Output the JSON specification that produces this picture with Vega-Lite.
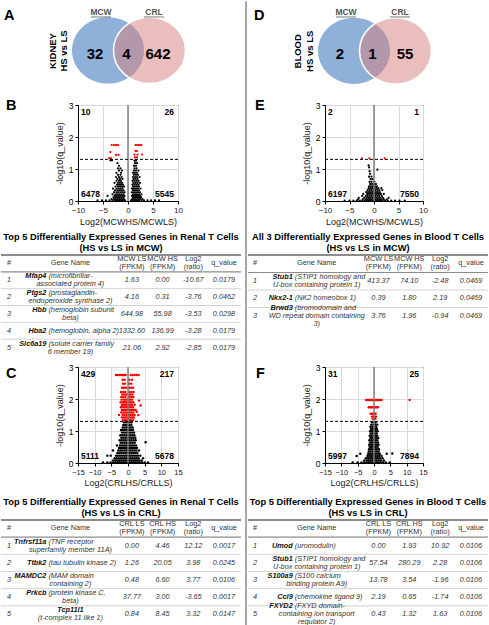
{
"$schema":"https://vega.github.io/schema/vega-lite/v6.json",
"padding":0,
"spacing":0,
"config":{
 "font":"Liberation Sans",
 "view":{"stroke":null},
 "title":{"fontSize":14.5,"fontWeight":"bold","anchor":"start","color":"#000","frame":"group"},
 "axis":{"labelFontSize":8,"labelColor":"#222","titleFontSize":9,"titleFontWeight":"normal","titleColor":"#222","tickColor":"#000","domainColor":"#000","tickSize":3,"gridColor":"#d9d9d9","labelPadding":2,"labelOverlap":false,"labelBound":false,"labelFlush":false},
 "axisY":{"labelColor":"#000","labelFontSize":8.5,"labelAlign":"right","labelBaseline":"middle","labelOpacity":1,"zindex":2}
},
"datasets":{
 "sets":[{"set":"MCW"},{"set":"CRL"}],
 "panels":[{"tissue":"KIDNEY","comparison":"HS vs LS"},{"tissue":"BLOOD","comparison":"HS vs LS"}],
 "venn":[
  {"tissue":"KIDNEY","region":"MCW only","count":32},{"tissue":"KIDNEY","region":"both","count":4},{"tissue":"KIDNEY","region":"CRL only","count":642},
  {"tissue":"BLOOD","region":"MCW only","count":2},{"tissue":"BLOOD","region":"both","count":1},{"tissue":"BLOOD","region":"CRL only","count":55}],
 "cnt":[
  {"panel":"B","pos":"tl","n":"10"},{"panel":"B","pos":"tr","n":"26"},{"panel":"B","pos":"bl","n":"6478"},{"panel":"B","pos":"br","n":"5545"},
  {"panel":"C","pos":"tl","n":"429"},{"panel":"C","pos":"tr","n":"217"},{"panel":"C","pos":"bl","n":"5111"},{"panel":"C","pos":"br","n":"5678"},
  {"panel":"E","pos":"tl","n":"2"},{"panel":"E","pos":"tr","n":"1"},{"panel":"E","pos":"bl","n":"6197"},{"panel":"E","pos":"br","n":"7550"},
  {"panel":"F","pos":"tl","n":"31"},{"panel":"F","pos":"tr","n":"25"},{"panel":"F","pos":"bl","n":"5997"},{"panel":"F","pos":"br","n":"7894"}],
 "vB":[
  {"lfc":-3.28,"nlq":1.75},{"lfc":-2.85,"nlq":1.75},{"lfc":-2.55,"nlq":1.75},{"lfc":-2.25,"nlq":1.75},{"lfc":-1.95,"nlq":1.75},{"lfc":-3.53,"nlq":1.53},{"lfc":-2.4,"nlq":1.44},{"lfc":-1.9,"nlq":1.44},{"lfc":-3.76,"nlq":1.34},{"lfc":-3.4,"nlq":1.33},
  {"lfc":1.5,"nlq":1.75},{"lfc":1.8,"nlq":1.75},{"lfc":2.1,"nlq":1.75},{"lfc":2.4,"nlq":1.75},{"lfc":2.7,"nlq":1.75},{"lfc":1.5,"nlq":1.56},{"lfc":1.8,"nlq":1.56},{"lfc":1.3,"nlq":1.45},{"lfc":1.9,"nlq":1.45},{"lfc":2.8,"nlq":1.45},{"lfc":1.4,"nlq":1.36},{"lfc":1.8,"nlq":1.36},
  {"lfc":-6.1,"nlq":0.02},{"lfc":-5.2,"nlq":0.02},{"lfc":-4.4,"nlq":0.02},{"lfc":-3.7,"nlq":0.02},{"lfc":-3.1,"nlq":0.02},{"lfc":-2.6,"nlq":0.02},{"lfc":-2.2,"nlq":0.02},{"lfc":-1.8,"nlq":0.02},{"lfc":-1.4,"nlq":0.02},{"lfc":-1.0,"nlq":0.02},{"lfc":-0.6,"nlq":0.02},
  {"lfc":-3.3,"nlq":0.06},{"lfc":-2.8,"nlq":0.06},{"lfc":-2.4,"nlq":0.06},{"lfc":-2.0,"nlq":0.06},{"lfc":-1.6,"nlq":0.06},{"lfc":-1.2,"nlq":0.06},{"lfc":-0.8,"nlq":0.06},
  {"lfc":-2.9,"nlq":0.11},{"lfc":-2.5,"nlq":0.11},{"lfc":-2.1,"nlq":0.11},{"lfc":-1.7,"nlq":0.11},{"lfc":-1.3,"nlq":0.11},{"lfc":-0.9,"nlq":0.11},
  {"lfc":-4.1,"nlq":0.16},{"lfc":-2.7,"nlq":0.16},{"lfc":-2.3,"nlq":0.16},{"lfc":-1.9,"nlq":0.16},{"lfc":-1.5,"nlq":0.16},{"lfc":-1.1,"nlq":0.16},{"lfc":-0.7,"nlq":0.16},
  {"lfc":-3.1,"nlq":0.21},{"lfc":-2.5,"nlq":0.21},{"lfc":-2.1,"nlq":0.21},{"lfc":-1.7,"nlq":0.21},{"lfc":-1.3,"nlq":0.21},{"lfc":-0.9,"nlq":0.21},
  {"lfc":-2.8,"nlq":0.27},{"lfc":-2.3,"nlq":0.27},{"lfc":-1.9,"nlq":0.27},{"lfc":-1.5,"nlq":0.27},{"lfc":-1.1,"nlq":0.27},{"lfc":-0.7,"nlq":0.27},
  {"lfc":-2.6,"nlq":0.33},{"lfc":-2.1,"nlq":0.33},{"lfc":-1.7,"nlq":0.33},{"lfc":-1.3,"nlq":0.33},{"lfc":-0.9,"nlq":0.33},
  {"lfc":-3.0,"nlq":0.39},{"lfc":-2.3,"nlq":0.39},{"lfc":-1.9,"nlq":0.39},{"lfc":-1.5,"nlq":0.39},{"lfc":-1.1,"nlq":0.39},
  {"lfc":-2.5,"nlq":0.45},{"lfc":-2.0,"nlq":0.45},{"lfc":-1.6,"nlq":0.45},{"lfc":-1.2,"nlq":0.45},{"lfc":-0.8,"nlq":0.45},
  {"lfc":-2.2,"nlq":0.51},{"lfc":-1.8,"nlq":0.51},{"lfc":-1.4,"nlq":0.51},{"lfc":-1.0,"nlq":0.51},
  {"lfc":-2.7,"nlq":0.57},{"lfc":-2.0,"nlq":0.57},{"lfc":-1.6,"nlq":0.57},{"lfc":-1.2,"nlq":0.57},
  {"lfc":-2.3,"nlq":0.63},{"lfc":-1.8,"nlq":0.63},{"lfc":-1.4,"nlq":0.63},
  {"lfc":-2.1,"nlq":0.69},{"lfc":-1.6,"nlq":0.69},{"lfc":-1.1,"nlq":0.69},
  {"lfc":-2.4,"nlq":0.75},{"lfc":-1.8,"nlq":0.75},{"lfc":-1.3,"nlq":0.75},
  {"lfc":-2.0,"nlq":0.82},{"lfc":-1.5,"nlq":0.82},{"lfc":-2.3,"nlq":0.88},{"lfc":-1.4,"nlq":0.88},{"lfc":-1.8,"nlq":0.95},{"lfc":-1.2,"nlq":0.95},
  {"lfc":-2.0,"nlq":1.02},{"lfc":-1.5,"nlq":1.02},{"lfc":-1.8,"nlq":1.1},{"lfc":-2.1,"nlq":1.18},{"lfc":-3.5,"nlq":1.27},{"lfc":-3.2,"nlq":1.27},
  {"lfc":0.6,"nlq":0.02},{"lfc":1.0,"nlq":0.02},{"lfc":1.4,"nlq":0.02},{"lfc":1.8,"nlq":0.02},{"lfc":2.2,"nlq":0.02},{"lfc":2.7,"nlq":0.02},{"lfc":3.2,"nlq":0.02},{"lfc":3.9,"nlq":0.02},{"lfc":4.6,"nlq":0.02},{"lfc":5.4,"nlq":0.02},{"lfc":6.2,"nlq":0.02},
  {"lfc":0.8,"nlq":0.06},{"lfc":1.2,"nlq":0.06},{"lfc":1.6,"nlq":0.06},{"lfc":2.0,"nlq":0.06},{"lfc":2.4,"nlq":0.06},{"lfc":2.9,"nlq":0.06},
  {"lfc":1.0,"nlq":0.11},{"lfc":1.4,"nlq":0.11},{"lfc":1.8,"nlq":0.11},{"lfc":2.2,"nlq":0.11},{"lfc":2.6,"nlq":0.11},
  {"lfc":0.8,"nlq":0.16},{"lfc":1.2,"nlq":0.16},{"lfc":1.6,"nlq":0.16},{"lfc":2.0,"nlq":0.16},{"lfc":2.4,"nlq":0.16},
  {"lfc":1.0,"nlq":0.21},{"lfc":1.4,"nlq":0.21},{"lfc":1.8,"nlq":0.21},{"lfc":2.2,"nlq":0.21},{"lfc":2.7,"nlq":0.21},
  {"lfc":0.8,"nlq":0.27},{"lfc":1.2,"nlq":0.27},{"lfc":1.6,"nlq":0.27},{"lfc":2.0,"nlq":0.27},{"lfc":2.4,"nlq":0.27},
  {"lfc":1.0,"nlq":0.33},{"lfc":1.4,"nlq":0.33},{"lfc":1.8,"nlq":0.33},{"lfc":2.2,"nlq":0.33},
  {"lfc":0.8,"nlq":0.39},{"lfc":1.2,"nlq":0.39},{"lfc":1.6,"nlq":0.39},{"lfc":2.0,"nlq":0.39},{"lfc":2.5,"nlq":0.39},
  {"lfc":1.0,"nlq":0.45},{"lfc":1.4,"nlq":0.45},{"lfc":1.8,"nlq":0.45},{"lfc":2.2,"nlq":0.45},
  {"lfc":0.9,"nlq":0.51},{"lfc":1.3,"nlq":0.51},{"lfc":1.7,"nlq":0.51},{"lfc":2.1,"nlq":0.51},
  {"lfc":1.1,"nlq":0.57},{"lfc":1.5,"nlq":0.57},{"lfc":1.9,"nlq":0.57},{"lfc":2.4,"nlq":0.57},
  {"lfc":0.9,"nlq":0.63},{"lfc":1.3,"nlq":0.63},{"lfc":1.7,"nlq":0.63},{"lfc":2.1,"nlq":0.63},
  {"lfc":1.1,"nlq":0.69},{"lfc":1.5,"nlq":0.69},{"lfc":1.9,"nlq":0.69},
  {"lfc":1.0,"nlq":0.75},{"lfc":1.4,"nlq":0.75},{"lfc":1.8,"nlq":0.75},{"lfc":2.3,"nlq":0.75},
  {"lfc":1.2,"nlq":0.82},{"lfc":1.6,"nlq":0.82},{"lfc":2.0,"nlq":0.82},{"lfc":1.0,"nlq":0.88},{"lfc":1.4,"nlq":0.88},{"lfc":1.8,"nlq":0.88},
  {"lfc":1.2,"nlq":0.95},{"lfc":1.6,"nlq":0.95},{"lfc":2.1,"nlq":0.95},{"lfc":1.3,"nlq":1.02},{"lfc":1.7,"nlq":1.02},{"lfc":1.2,"nlq":1.1},{"lfc":1.6,"nlq":1.1},
  {"lfc":1.4,"nlq":1.18},{"lfc":1.8,"nlq":1.18},{"lfc":1.3,"nlq":1.26},{"lfc":1.6,"nlq":1.26}],
 "vC":[
  {"lfc":-7.5,"nlq":0.02},{"lfc":-6.2,"nlq":0.02},{"lfc":-5.2,"nlq":0.02},{"lfc":-4.4,"nlq":0.02},{"lfc":-3.7,"nlq":0.02},{"lfc":-3.1,"nlq":0.02},{"lfc":-2.5,"nlq":0.02},{"lfc":-1.9,"nlq":0.02},{"lfc":-1.3,"nlq":0.02},{"lfc":-0.7,"nlq":0.02},{"lfc":-0.1,"nlq":0.02},{"lfc":0.5,"nlq":0.02},{"lfc":1.1,"nlq":0.02},{"lfc":1.7,"nlq":0.02},{"lfc":2.3,"nlq":0.02},{"lfc":2.9,"nlq":0.02},{"lfc":3.5,"nlq":0.02},{"lfc":4.2,"nlq":0.02},{"lfc":5.0,"nlq":0.02},{"lfc":6.0,"nlq":0.02},
  {"lfc":-4.5,"nlq":0.08},{"lfc":-3.8,"nlq":0.08},{"lfc":-3.2,"nlq":0.08},{"lfc":-2.6,"nlq":0.08},{"lfc":-2.0,"nlq":0.08},{"lfc":-1.4,"nlq":0.08},{"lfc":-0.8,"nlq":0.08},{"lfc":-0.2,"nlq":0.08},{"lfc":0.4,"nlq":0.08},{"lfc":1.0,"nlq":0.08},{"lfc":1.6,"nlq":0.08},{"lfc":2.2,"nlq":0.08},{"lfc":2.8,"nlq":0.08},{"lfc":3.4,"nlq":0.08},{"lfc":4.1,"nlq":0.08},
  {"lfc":-4.0,"nlq":0.15},{"lfc":-3.4,"nlq":0.15},{"lfc":-2.8,"nlq":0.15},{"lfc":-2.2,"nlq":0.15},{"lfc":-1.6,"nlq":0.15},{"lfc":-1.0,"nlq":0.15},{"lfc":-0.4,"nlq":0.15},{"lfc":0.2,"nlq":0.15},{"lfc":0.8,"nlq":0.15},{"lfc":1.4,"nlq":0.15},{"lfc":2.0,"nlq":0.15},{"lfc":2.6,"nlq":0.15},{"lfc":3.2,"nlq":0.15},{"lfc":4.5,"nlq":0.15},
  {"lfc":-6.2,"nlq":0.23},{"lfc":-5.2,"nlq":0.23},{"lfc":-3.6,"nlq":0.23},{"lfc":-3.0,"nlq":0.23},{"lfc":-2.4,"nlq":0.23},{"lfc":-1.8,"nlq":0.23},{"lfc":-1.2,"nlq":0.23},{"lfc":-0.6,"nlq":0.23},{"lfc":0.0,"nlq":0.23},{"lfc":0.6,"nlq":0.23},{"lfc":1.2,"nlq":0.23},{"lfc":1.8,"nlq":0.23},{"lfc":2.4,"nlq":0.23},{"lfc":3.0,"nlq":0.23},{"lfc":3.7,"nlq":0.23},
  {"lfc":-3.2,"nlq":0.31},{"lfc":-2.6,"nlq":0.31},{"lfc":-2.0,"nlq":0.31},{"lfc":-1.4,"nlq":0.31},{"lfc":-0.8,"nlq":0.31},{"lfc":-0.2,"nlq":0.31},{"lfc":0.4,"nlq":0.31},{"lfc":1.0,"nlq":0.31},{"lfc":1.6,"nlq":0.31},{"lfc":2.2,"nlq":0.31},{"lfc":2.8,"nlq":0.31},
  {"lfc":-4.5,"nlq":0.39},{"lfc":-2.9,"nlq":0.39},{"lfc":-2.3,"nlq":0.39},{"lfc":-1.7,"nlq":0.39},{"lfc":-1.1,"nlq":0.39},{"lfc":-0.5,"nlq":0.39},{"lfc":0.1,"nlq":0.39},{"lfc":0.7,"nlq":0.39},{"lfc":1.3,"nlq":0.39},{"lfc":1.9,"nlq":0.39},{"lfc":2.5,"nlq":0.39},{"lfc":3.3,"nlq":0.39},
  {"lfc":-2.7,"nlq":0.47},{"lfc":-2.1,"nlq":0.47},{"lfc":-1.5,"nlq":0.47},{"lfc":-0.9,"nlq":0.47},{"lfc":-0.3,"nlq":0.47},{"lfc":0.3,"nlq":0.47},{"lfc":0.9,"nlq":0.47},{"lfc":1.5,"nlq":0.47},{"lfc":2.1,"nlq":0.47},{"lfc":2.7,"nlq":0.47},
  {"lfc":-3.3,"nlq":0.55},{"lfc":-2.4,"nlq":0.55},{"lfc":-1.8,"nlq":0.55},{"lfc":-1.2,"nlq":0.55},{"lfc":-0.6,"nlq":0.55},{"lfc":0.0,"nlq":0.55},{"lfc":0.6,"nlq":0.55},{"lfc":1.2,"nlq":0.55},{"lfc":1.8,"nlq":0.55},{"lfc":2.4,"nlq":0.55},
  {"lfc":-2.2,"nlq":0.63},{"lfc":-1.6,"nlq":0.63},{"lfc":-1.0,"nlq":0.63},{"lfc":-0.4,"nlq":0.63},{"lfc":0.2,"nlq":0.63},{"lfc":0.8,"nlq":0.63},{"lfc":1.4,"nlq":0.63},{"lfc":2.0,"nlq":0.63},{"lfc":5.3,"nlq":0.65},
  {"lfc":-2.5,"nlq":0.71},{"lfc":-1.9,"nlq":0.71},{"lfc":-1.3,"nlq":0.71},{"lfc":-0.7,"nlq":0.71},{"lfc":-0.1,"nlq":0.71},{"lfc":0.5,"nlq":0.71},{"lfc":1.1,"nlq":0.71},{"lfc":1.7,"nlq":0.71},{"lfc":2.3,"nlq":0.71},
  {"lfc":-2.0,"nlq":0.79},{"lfc":-1.4,"nlq":0.79},{"lfc":-0.8,"nlq":0.79},{"lfc":-0.2,"nlq":0.79},{"lfc":0.4,"nlq":0.79},{"lfc":1.0,"nlq":0.79},{"lfc":1.6,"nlq":0.79},{"lfc":2.2,"nlq":0.79},
  {"lfc":-2.3,"nlq":0.87},{"lfc":-1.7,"nlq":0.87},{"lfc":-1.1,"nlq":0.87},{"lfc":-0.5,"nlq":0.87},{"lfc":0.1,"nlq":0.87},{"lfc":0.7,"nlq":0.87},{"lfc":1.3,"nlq":0.87},{"lfc":1.9,"nlq":0.87},
  {"lfc":-1.8,"nlq":0.95},{"lfc":-1.2,"nlq":0.95},{"lfc":-0.6,"nlq":0.95},{"lfc":0.0,"nlq":0.95},{"lfc":0.6,"nlq":0.95},{"lfc":1.2,"nlq":0.95},{"lfc":1.8,"nlq":0.95},
  {"lfc":-2.1,"nlq":1.03},{"lfc":-1.5,"nlq":1.03},{"lfc":-0.9,"nlq":1.03},{"lfc":-0.3,"nlq":1.03},{"lfc":0.3,"nlq":1.03},{"lfc":0.9,"nlq":1.03},{"lfc":1.5,"nlq":1.03},
  {"lfc":-1.6,"nlq":1.11},{"lfc":-1.0,"nlq":1.11},{"lfc":-0.4,"nlq":1.11},{"lfc":0.2,"nlq":1.11},{"lfc":0.8,"nlq":1.11},{"lfc":1.4,"nlq":1.11},
  {"lfc":-1.4,"nlq":1.19},{"lfc":-0.8,"nlq":1.19},{"lfc":-0.2,"nlq":1.19},{"lfc":0.4,"nlq":1.19},{"lfc":1.0,"nlq":1.19},
  {"lfc":-1.2,"nlq":1.27},{"lfc":-0.6,"nlq":1.27},{"lfc":0.0,"nlq":1.27},{"lfc":0.6,"nlq":1.27},{"lfc":1.1,"nlq":1.27},
  {"lfc":-1.5,"nlq":1.34},{"lfc":-0.9,"nlq":1.34},{"lfc":-0.3,"nlq":1.34},{"lfc":0.3,"nlq":1.34},{"lfc":0.9,"nlq":1.34},{"lfc":1.5,"nlq":1.34},
  {"lfc":-1.8,"nlq":1.42},{"lfc":-1.2,"nlq":1.42},{"lfc":-0.6,"nlq":1.42},{"lfc":0.0,"nlq":1.42},{"lfc":0.6,"nlq":1.42},{"lfc":1.2,"nlq":1.42},{"lfc":1.8,"nlq":1.42},
  {"lfc":-2.7,"nlq":1.5},{"lfc":-1.6,"nlq":1.5},{"lfc":-1.0,"nlq":1.5},{"lfc":-0.4,"nlq":1.5},{"lfc":0.2,"nlq":1.5},{"lfc":0.8,"nlq":1.5},{"lfc":1.4,"nlq":1.5},{"lfc":2.0,"nlq":1.5},{"lfc":3.1,"nlq":1.5},
  {"lfc":-2.0,"nlq":1.58},{"lfc":-1.4,"nlq":1.58},{"lfc":-0.8,"nlq":1.58},{"lfc":-0.2,"nlq":1.58},{"lfc":0.4,"nlq":1.58},{"lfc":1.0,"nlq":1.58},{"lfc":1.6,"nlq":1.58},{"lfc":2.6,"nlq":1.6},
  {"lfc":-1.8,"nlq":1.66},{"lfc":-1.2,"nlq":1.66},{"lfc":-0.6,"nlq":1.66},{"lfc":0.0,"nlq":1.66},{"lfc":0.6,"nlq":1.66},{"lfc":1.2,"nlq":1.66},{"lfc":1.8,"nlq":1.66},{"lfc":2.3,"nlq":1.66},
  {"lfc":-2.1,"nlq":1.74},{"lfc":-1.5,"nlq":1.74},{"lfc":-0.9,"nlq":1.74},{"lfc":-0.3,"nlq":1.74},{"lfc":0.3,"nlq":1.74},{"lfc":0.9,"nlq":1.74},{"lfc":1.5,"nlq":1.74},{"lfc":3.8,"nlq":1.8},
  {"lfc":-1.8,"nlq":1.82},{"lfc":-1.2,"nlq":1.82},{"lfc":-0.6,"nlq":1.82},{"lfc":0.0,"nlq":1.82},{"lfc":0.6,"nlq":1.82},{"lfc":1.2,"nlq":1.82},{"lfc":2.0,"nlq":1.82},
  {"lfc":-2.2,"nlq":1.9},{"lfc":-1.5,"nlq":1.9},{"lfc":-0.9,"nlq":1.9},{"lfc":-0.3,"nlq":1.9},{"lfc":0.3,"nlq":1.9},{"lfc":0.9,"nlq":1.9},{"lfc":1.6,"nlq":1.9},
  {"lfc":-1.9,"nlq":1.98},{"lfc":-1.2,"nlq":1.98},{"lfc":-0.6,"nlq":1.98},{"lfc":0.0,"nlq":1.98},{"lfc":0.6,"nlq":1.98},{"lfc":1.2,"nlq":1.98},{"lfc":3.3,"nlq":1.95},
  {"lfc":-2.0,"nlq":2.06},{"lfc":-1.4,"nlq":2.06},{"lfc":-0.8,"nlq":2.06},{"lfc":0.4,"nlq":2.06},{"lfc":1.0,"nlq":2.06},{"lfc":1.6,"nlq":2.06},
  {"lfc":-1.7,"nlq":2.14},{"lfc":-1.1,"nlq":2.14},{"lfc":-0.5,"nlq":2.14},{"lfc":0.6,"nlq":2.14},{"lfc":1.3,"nlq":2.14},
  {"lfc":-2.1,"nlq":2.22},{"lfc":-1.4,"nlq":2.22},{"lfc":-0.8,"nlq":2.22},{"lfc":0.5,"nlq":2.22},{"lfc":1.1,"nlq":2.22},{"lfc":1.7,"nlq":2.22},
  {"lfc":-1.8,"nlq":2.35},{"lfc":-1.2,"nlq":2.35},{"lfc":-0.6,"nlq":2.35},{"lfc":0.4,"nlq":2.35},{"lfc":1.0,"nlq":2.35},{"lfc":1.5,"nlq":2.35},
  {"lfc":-1.5,"nlq":2.48},{"lfc":-0.9,"nlq":2.48},{"lfc":0.4,"nlq":2.48},{"lfc":1.0,"nlq":2.48},
  {"lfc":-1.6,"nlq":2.6},{"lfc":-1.0,"nlq":2.6},{"lfc":0.4,"nlq":2.6},{"lfc":1.2,"nlq":2.6},
  {"lfc":-3.6,"nlq":2.75},{"lfc":-3.0,"nlq":2.75},{"lfc":-2.4,"nlq":2.75},{"lfc":-1.8,"nlq":2.75},{"lfc":-1.2,"nlq":2.75},{"lfc":-0.7,"nlq":2.75},{"lfc":0.8,"nlq":2.75},{"lfc":1.4,"nlq":2.75},{"lfc":2.0,"nlq":2.75},{"lfc":2.6,"nlq":2.75},{"lfc":3.2,"nlq":2.75}],
 "vE":[
  {"lfc":-2.48,"nlq":1.33},{"lfc":-0.94,"nlq":1.33},{"lfc":2.19,"nlq":1.33},
  {"lfc":-6.0,"nlq":0.01},{"lfc":-5.0,"nlq":0.01},{"lfc":-4.2,"nlq":0.01},{"lfc":-3.5,"nlq":0.01},{"lfc":-2.9,"nlq":0.01},{"lfc":-2.4,"nlq":0.01},{"lfc":-1.9,"nlq":0.01},{"lfc":-1.5,"nlq":0.01},{"lfc":-1.1,"nlq":0.01},{"lfc":-0.7,"nlq":0.01},{"lfc":-0.3,"nlq":0.01},{"lfc":0.1,"nlq":0.01},{"lfc":0.5,"nlq":0.01},{"lfc":0.9,"nlq":0.01},{"lfc":1.3,"nlq":0.01},{"lfc":1.7,"nlq":0.01},{"lfc":2.2,"nlq":0.01},{"lfc":2.8,"nlq":0.01},{"lfc":3.5,"nlq":0.01},{"lfc":4.3,"nlq":0.01},{"lfc":5.2,"nlq":0.01},{"lfc":6.3,"nlq":0.01},
  {"lfc":-3.3,"nlq":0.05},{"lfc":-2.3,"nlq":0.05},{"lfc":-1.7,"nlq":0.05},{"lfc":-1.3,"nlq":0.05},{"lfc":-0.9,"nlq":0.05},{"lfc":-0.5,"nlq":0.05},{"lfc":-0.1,"nlq":0.05},{"lfc":0.3,"nlq":0.05},{"lfc":0.7,"nlq":0.05},{"lfc":1.1,"nlq":0.05},{"lfc":1.5,"nlq":0.05},{"lfc":2.0,"nlq":0.05},{"lfc":2.6,"nlq":0.05},
  {"lfc":-3.1,"nlq":0.1},{"lfc":-2.0,"nlq":0.1},{"lfc":-1.5,"nlq":0.1},{"lfc":-1.1,"nlq":0.1},{"lfc":-0.7,"nlq":0.1},{"lfc":-0.3,"nlq":0.1},{"lfc":0.1,"nlq":0.1},{"lfc":0.5,"nlq":0.1},{"lfc":0.9,"nlq":0.1},{"lfc":1.3,"nlq":0.1},{"lfc":1.8,"nlq":0.1},{"lfc":3.0,"nlq":0.1},
  {"lfc":-2.4,"nlq":0.16},{"lfc":-1.7,"nlq":0.16},{"lfc":-1.3,"nlq":0.16},{"lfc":-0.9,"nlq":0.16},{"lfc":-0.5,"nlq":0.16},{"lfc":-0.1,"nlq":0.16},{"lfc":0.3,"nlq":0.16},{"lfc":0.7,"nlq":0.16},{"lfc":1.1,"nlq":0.16},{"lfc":1.6,"nlq":0.16},
  {"lfc":-2.2,"nlq":0.22},{"lfc":-1.4,"nlq":0.22},{"lfc":-1.0,"nlq":0.22},{"lfc":-0.6,"nlq":0.22},{"lfc":-0.2,"nlq":0.22},{"lfc":0.2,"nlq":0.22},{"lfc":0.6,"nlq":0.22},{"lfc":1.0,"nlq":0.22},{"lfc":1.4,"nlq":0.22},{"lfc":2.0,"nlq":0.22},
  {"lfc":-1.6,"nlq":0.28},{"lfc":-1.2,"nlq":0.28},{"lfc":-0.8,"nlq":0.28},{"lfc":-0.4,"nlq":0.28},{"lfc":0.0,"nlq":0.28},{"lfc":0.4,"nlq":0.28},{"lfc":0.8,"nlq":0.28},{"lfc":1.2,"nlq":0.28},
  {"lfc":-1.3,"nlq":0.34},{"lfc":-0.9,"nlq":0.34},{"lfc":-0.5,"nlq":0.34},{"lfc":-0.1,"nlq":0.34},{"lfc":0.3,"nlq":0.34},{"lfc":0.7,"nlq":0.34},{"lfc":1.1,"nlq":0.34},{"lfc":1.7,"nlq":0.34},
  {"lfc":-1.1,"nlq":0.4},{"lfc":-0.7,"nlq":0.4},{"lfc":-0.3,"nlq":0.4},{"lfc":0.1,"nlq":0.4},{"lfc":0.5,"nlq":0.4},{"lfc":0.9,"nlq":0.4},{"lfc":1.5,"nlq":0.4},
  {"lfc":-1.0,"nlq":0.46},{"lfc":-0.6,"nlq":0.46},{"lfc":-0.2,"nlq":0.46},{"lfc":0.2,"nlq":0.46},{"lfc":0.6,"nlq":0.46},
  {"lfc":-0.8,"nlq":0.53},{"lfc":-0.4,"nlq":0.53},{"lfc":0.0,"nlq":0.53},{"lfc":0.4,"nlq":0.53},
  {"lfc":-0.9,"nlq":0.6},{"lfc":-0.5,"nlq":0.6},{"lfc":0.1,"nlq":0.6},{"lfc":-0.7,"nlq":0.68},{"lfc":-0.3,"nlq":0.68},{"lfc":-1.0,"nlq":0.76},{"lfc":-0.5,"nlq":0.76},
  {"lfc":-0.8,"nlq":0.85},{"lfc":-0.9,"nlq":0.93},{"lfc":0.7,"nlq":0.98},{"lfc":-1.0,"nlq":1.05},{"lfc":-1.1,"nlq":1.11}],
 "vF":[
  {"lfc":-2.4,"nlq":1.97},{"lfc":-2.0,"nlq":1.97},{"lfc":-1.7,"nlq":1.97},{"lfc":-1.4,"nlq":1.97},{"lfc":-1.1,"nlq":1.97},{"lfc":-0.8,"nlq":1.97},{"lfc":-0.5,"nlq":1.97},{"lfc":-0.2,"nlq":1.97},{"lfc":0.1,"nlq":1.97},{"lfc":0.4,"nlq":1.97},{"lfc":0.7,"nlq":1.97},{"lfc":1.0,"nlq":1.97},{"lfc":1.3,"nlq":1.97},{"lfc":1.6,"nlq":1.97},{"lfc":1.9,"nlq":1.97},{"lfc":2.3,"nlq":1.97},{"lfc":10.92,"nlq":1.97},
  {"lfc":-1.6,"nlq":1.74},{"lfc":-1.2,"nlq":1.74},{"lfc":-0.8,"nlq":1.74},{"lfc":-0.4,"nlq":1.74},{"lfc":0.0,"nlq":1.74},{"lfc":0.4,"nlq":1.74},{"lfc":0.8,"nlq":1.74},{"lfc":1.2,"nlq":1.74},
  {"lfc":-1.0,"nlq":1.54},{"lfc":-0.6,"nlq":1.54},{"lfc":-0.2,"nlq":1.54},{"lfc":0.2,"nlq":1.54},{"lfc":0.5,"nlq":1.54},
  {"lfc":-0.6,"nlq":1.45},{"lfc":-0.2,"nlq":1.45},{"lfc":0.2,"nlq":1.45},{"lfc":0.6,"nlq":1.45},{"lfc":-0.4,"nlq":1.38},{"lfc":0.0,"nlq":1.38},{"lfc":0.4,"nlq":1.38},
  {"lfc":-6.5,"nlq":0.02},{"lfc":-5.0,"nlq":0.02},{"lfc":-3.8,"nlq":0.02},{"lfc":-2.9,"nlq":0.02},{"lfc":-2.2,"nlq":0.02},{"lfc":-1.6,"nlq":0.02},{"lfc":-1.0,"nlq":0.02},{"lfc":-0.4,"nlq":0.02},{"lfc":0.2,"nlq":0.02},{"lfc":0.8,"nlq":0.02},{"lfc":1.4,"nlq":0.02},{"lfc":2.0,"nlq":0.02},{"lfc":2.7,"nlq":0.02},{"lfc":3.6,"nlq":0.02},{"lfc":4.8,"nlq":0.02},
  {"lfc":-3.0,"nlq":0.08},{"lfc":-2.2,"nlq":0.08},{"lfc":-1.6,"nlq":0.08},{"lfc":-1.0,"nlq":0.08},{"lfc":-0.4,"nlq":0.08},{"lfc":0.2,"nlq":0.08},{"lfc":0.8,"nlq":0.08},{"lfc":1.4,"nlq":0.08},{"lfc":2.1,"nlq":0.08},{"lfc":3.0,"nlq":0.08},
  {"lfc":-2.5,"nlq":0.15},{"lfc":-1.8,"nlq":0.15},{"lfc":-1.2,"nlq":0.15},{"lfc":-0.6,"nlq":0.15},{"lfc":0.0,"nlq":0.15},{"lfc":0.6,"nlq":0.15},{"lfc":1.2,"nlq":0.15},{"lfc":1.8,"nlq":0.15},{"lfc":2.6,"nlq":0.15},
  {"lfc":-5.3,"nlq":0.22},{"lfc":-2.0,"nlq":0.22},{"lfc":-1.4,"nlq":0.22},{"lfc":-0.8,"nlq":0.22},{"lfc":-0.2,"nlq":0.22},{"lfc":0.4,"nlq":0.22},{"lfc":1.0,"nlq":0.22},{"lfc":1.6,"nlq":0.22},{"lfc":2.3,"nlq":0.22},
  {"lfc":-4.2,"nlq":0.29},{"lfc":-1.8,"nlq":0.29},{"lfc":-1.2,"nlq":0.29},{"lfc":-0.6,"nlq":0.29},{"lfc":0.0,"nlq":0.29},{"lfc":0.6,"nlq":0.29},{"lfc":1.2,"nlq":0.29},{"lfc":1.8,"nlq":0.29},{"lfc":3.9,"nlq":0.29},{"lfc":5.6,"nlq":0.3},
  {"lfc":-1.6,"nlq":0.36},{"lfc":-1.0,"nlq":0.36},{"lfc":-0.4,"nlq":0.36},{"lfc":0.2,"nlq":0.36},{"lfc":0.8,"nlq":0.36},{"lfc":1.4,"nlq":0.36},
  {"lfc":-1.5,"nlq":0.43},{"lfc":-0.9,"nlq":0.43},{"lfc":-0.3,"nlq":0.43},{"lfc":0.3,"nlq":0.43},{"lfc":0.9,"nlq":0.43},{"lfc":1.5,"nlq":0.43},
  {"lfc":-1.3,"nlq":0.5},{"lfc":-0.7,"nlq":0.5},{"lfc":-0.1,"nlq":0.5},{"lfc":0.5,"nlq":0.5},{"lfc":1.1,"nlq":0.5},
  {"lfc":-1.5,"nlq":0.57},{"lfc":-0.9,"nlq":0.57},{"lfc":-0.3,"nlq":0.57},{"lfc":0.3,"nlq":0.57},{"lfc":0.9,"nlq":0.57},{"lfc":1.4,"nlq":0.57},
  {"lfc":-1.2,"nlq":0.64},{"lfc":-0.6,"nlq":0.64},{"lfc":0.0,"nlq":0.64},{"lfc":0.6,"nlq":0.64},{"lfc":1.2,"nlq":0.64},
  {"lfc":-1.4,"nlq":0.71},{"lfc":-0.8,"nlq":0.71},{"lfc":-0.2,"nlq":0.71},{"lfc":0.4,"nlq":0.71},{"lfc":1.0,"nlq":0.71},
  {"lfc":-1.1,"nlq":0.78},{"lfc":-0.5,"nlq":0.78},{"lfc":0.1,"nlq":0.78},{"lfc":0.7,"nlq":0.78},{"lfc":1.3,"nlq":0.78},
  {"lfc":-1.3,"nlq":0.85},{"lfc":-0.7,"nlq":0.85},{"lfc":-0.1,"nlq":0.85},{"lfc":0.5,"nlq":0.85},{"lfc":1.0,"nlq":0.85},
  {"lfc":-1.0,"nlq":0.92},{"lfc":-0.4,"nlq":0.92},{"lfc":0.2,"nlq":0.92},{"lfc":0.8,"nlq":0.92},
  {"lfc":-1.2,"nlq":0.99},{"lfc":-0.6,"nlq":0.99},{"lfc":0.0,"nlq":0.99},{"lfc":0.6,"nlq":0.99},{"lfc":1.1,"nlq":0.99},
  {"lfc":-0.9,"nlq":1.06},{"lfc":-0.3,"nlq":1.06},{"lfc":0.3,"nlq":1.06},{"lfc":0.9,"nlq":1.06},
  {"lfc":-1.1,"nlq":1.13},{"lfc":-0.5,"nlq":1.13},{"lfc":0.1,"nlq":1.13},{"lfc":0.7,"nlq":1.13},
  {"lfc":-0.8,"nlq":1.2},{"lfc":-0.2,"nlq":1.2},{"lfc":0.4,"nlq":1.2},{"lfc":1.0,"nlq":1.2},
  {"lfc":-0.6,"nlq":1.27},{"lfc":0.0,"nlq":1.27},{"lfc":0.5,"nlq":1.27}],
 "cells":[
  {"tbl":1,"row":0,"col":"#","line":0,"kind":"h","text":"#"},{"tbl":1,"row":0,"col":"gene","line":0,"kind":"h","text":"Gene Name"},
  {"tbl":1,"row":0,"col":"ls","line":-0.5,"kind":"h","text":"MCW LS"},{"tbl":1,"row":0,"col":"ls","line":0.5,"kind":"h","text":"(FPKM)"},
  {"tbl":1,"row":0,"col":"hs","line":-0.5,"kind":"h","text":"MCW HS"},{"tbl":1,"row":0,"col":"hs","line":0.5,"kind":"h","text":"(FPKM)"},
  {"tbl":1,"row":0,"col":"ratio","line":-0.5,"kind":"h","text":"Log2"},{"tbl":1,"row":0,"col":"ratio","line":0.5,"kind":"h","text":"(ratio)"},
  {"tbl":1,"row":0,"col":"q","line":0,"kind":"h","text":"q_value"},
  {"tbl":1,"row":1,"col":"#","line":0,"kind":"n","text":"1"},{"tbl":1,"row":1,"col":"gene","line":-0.5,"kind":"s","text":"Mfap4"},{"tbl":1,"row":1,"col":"gene","line":-0.5,"kind":"d1","text":"(microfibrillar-"},{"tbl":1,"row":1,"col":"gene","line":0.5,"kind":"d","text":"associated protein 4)"},
  {"tbl":1,"row":1,"col":"ls","line":0,"kind":"n","text":"1.63"},{"tbl":1,"row":1,"col":"hs","line":0,"kind":"n","text":"0.00"},{"tbl":1,"row":1,"col":"ratio","line":0,"kind":"n","text":"-10.67"},{"tbl":1,"row":1,"col":"q","line":0,"kind":"n","text":"0.0179"},
  {"tbl":1,"row":2,"col":"#","line":0,"kind":"n","text":"2"},{"tbl":1,"row":2,"col":"gene","line":-0.5,"kind":"s","text":"Ptgs2"},{"tbl":1,"row":2,"col":"gene","line":-0.5,"kind":"d1","text":"(prostaglandin-"},{"tbl":1,"row":2,"col":"gene","line":0.5,"kind":"d","text":"endoperoxide synthase 2)"},
  {"tbl":1,"row":2,"col":"ls","line":0,"kind":"n","text":"4.16"},{"tbl":1,"row":2,"col":"hs","line":0,"kind":"n","text":"0.31"},{"tbl":1,"row":2,"col":"ratio","line":0,"kind":"n","text":"-3.76"},{"tbl":1,"row":2,"col":"q","line":0,"kind":"n","text":"0.0462"},
  {"tbl":1,"row":3,"col":"#","line":0,"kind":"n","text":"3"},{"tbl":1,"row":3,"col":"gene","line":-0.5,"kind":"s","text":"Hbb"},{"tbl":1,"row":3,"col":"gene","line":-0.5,"kind":"d1","text":"(hemoglobin subunit"},{"tbl":1,"row":3,"col":"gene","line":0.5,"kind":"d","text":"beta)"},
  {"tbl":1,"row":3,"col":"ls","line":0,"kind":"n","text":"644.98"},{"tbl":1,"row":3,"col":"hs","line":0,"kind":"n","text":"55.98"},{"tbl":1,"row":3,"col":"ratio","line":0,"kind":"n","text":"-3.53"},{"tbl":1,"row":3,"col":"q","line":0,"kind":"n","text":"0.0298"},
  {"tbl":1,"row":4,"col":"#","line":0,"kind":"n","text":"4"},{"tbl":1,"row":4,"col":"gene","line":0,"kind":"s","text":"Hba2"},{"tbl":1,"row":4,"col":"gene","line":0,"kind":"d1","text":"(hemoglobin, alpha 2)"},
  {"tbl":1,"row":4,"col":"ls","line":0,"kind":"n","text":"1332.60"},{"tbl":1,"row":4,"col":"hs","line":0,"kind":"n","text":"136.99"},{"tbl":1,"row":4,"col":"ratio","line":0,"kind":"n","text":"-3.28"},{"tbl":1,"row":4,"col":"q","line":0,"kind":"n","text":"0.0179"},
  {"tbl":1,"row":5,"col":"#","line":0,"kind":"n","text":"5"},{"tbl":1,"row":5,"col":"gene","line":-0.5,"kind":"s","text":"Slc6a19"},{"tbl":1,"row":5,"col":"gene","line":-0.5,"kind":"d1","text":"(solute carrier family"},{"tbl":1,"row":5,"col":"gene","line":0.5,"kind":"d","text":"6 member 19)"},
  {"tbl":1,"row":5,"col":"ls","line":0,"kind":"n","text":"21.06"},{"tbl":1,"row":5,"col":"hs","line":0,"kind":"n","text":"2.92"},{"tbl":1,"row":5,"col":"ratio","line":0,"kind":"n","text":"-2.85"},{"tbl":1,"row":5,"col":"q","line":0,"kind":"n","text":"0.0179"},
  {"tbl":2,"row":0,"col":"#","line":0,"kind":"h","text":"#"},{"tbl":2,"row":0,"col":"gene","line":0,"kind":"h","text":"Gene Name"},
  {"tbl":2,"row":0,"col":"ls","line":-0.5,"kind":"h","text":"CRL LS"},{"tbl":2,"row":0,"col":"ls","line":0.5,"kind":"h","text":"(FPKM)"},
  {"tbl":2,"row":0,"col":"hs","line":-0.5,"kind":"h","text":"CRL HS"},{"tbl":2,"row":0,"col":"hs","line":0.5,"kind":"h","text":"(FPKM)"},
  {"tbl":2,"row":0,"col":"ratio","line":-0.5,"kind":"h","text":"Log2"},{"tbl":2,"row":0,"col":"ratio","line":0.5,"kind":"h","text":"(ratio)"},
  {"tbl":2,"row":0,"col":"q","line":0,"kind":"h","text":"q_value"},
  {"tbl":2,"row":1,"col":"#","line":0,"kind":"n","text":"1"},{"tbl":2,"row":1,"col":"gene","line":-0.5,"kind":"s","text":"Tnfrsf11a"},{"tbl":2,"row":1,"col":"gene","line":-0.5,"kind":"d1","text":"(TNF receptor"},{"tbl":2,"row":1,"col":"gene","line":0.5,"kind":"d","text":"superfamily member 11A)"},
  {"tbl":2,"row":1,"col":"ls","line":0,"kind":"n","text":"0.00"},{"tbl":2,"row":1,"col":"hs","line":0,"kind":"n","text":"4.46"},{"tbl":2,"row":1,"col":"ratio","line":0,"kind":"n","text":"12.12"},{"tbl":2,"row":1,"col":"q","line":0,"kind":"n","text":"0.0017"},
  {"tbl":2,"row":2,"col":"#","line":0,"kind":"n","text":"2"},{"tbl":2,"row":2,"col":"gene","line":0,"kind":"s","text":"Ttbk2"},{"tbl":2,"row":2,"col":"gene","line":0,"kind":"d1","text":"(tau tubulin kinase 2)"},
  {"tbl":2,"row":2,"col":"ls","line":0,"kind":"n","text":"1.26"},{"tbl":2,"row":2,"col":"hs","line":0,"kind":"n","text":"20.05"},{"tbl":2,"row":2,"col":"ratio","line":0,"kind":"n","text":"3.98"},{"tbl":2,"row":2,"col":"q","line":0,"kind":"n","text":"0.0245"},
  {"tbl":2,"row":3,"col":"#","line":0,"kind":"n","text":"3"},{"tbl":2,"row":3,"col":"gene","line":-0.5,"kind":"s","text":"MAMDC2"},{"tbl":2,"row":3,"col":"gene","line":-0.5,"kind":"d1","text":"(MAM domain"},{"tbl":2,"row":3,"col":"gene","line":0.5,"kind":"d","text":"containing 2)"},
  {"tbl":2,"row":3,"col":"ls","line":0,"kind":"n","text":"0.48"},{"tbl":2,"row":3,"col":"hs","line":0,"kind":"n","text":"6.60"},{"tbl":2,"row":3,"col":"ratio","line":0,"kind":"n","text":"3.77"},{"tbl":2,"row":3,"col":"q","line":0,"kind":"n","text":"0.0106"},
  {"tbl":2,"row":4,"col":"#","line":0,"kind":"n","text":"4"},{"tbl":2,"row":4,"col":"gene","line":-0.5,"kind":"s","text":"Prkcb"},{"tbl":2,"row":4,"col":"gene","line":-0.5,"kind":"d1","text":"(protein kinase C,"},{"tbl":2,"row":4,"col":"gene","line":0.5,"kind":"d","text":"beta)"},
  {"tbl":2,"row":4,"col":"ls","line":0,"kind":"n","text":"37.77"},{"tbl":2,"row":4,"col":"hs","line":0,"kind":"n","text":"3.00"},{"tbl":2,"row":4,"col":"ratio","line":0,"kind":"n","text":"-3.65"},{"tbl":2,"row":4,"col":"q","line":0,"kind":"n","text":"0.0017"},
  {"tbl":2,"row":5,"col":"#","line":0,"kind":"n","text":"5"},{"tbl":2,"row":5,"col":"gene","line":-0.5,"kind":"sa","text":"Tcp11l1"},{"tbl":2,"row":5,"col":"gene","line":0.5,"kind":"d","text":"(t-complex 11 like 1)"},
  {"tbl":2,"row":5,"col":"ls","line":0,"kind":"n","text":"0.84"},{"tbl":2,"row":5,"col":"hs","line":0,"kind":"n","text":"8.45"},{"tbl":2,"row":5,"col":"ratio","line":0,"kind":"n","text":"3.32"},{"tbl":2,"row":5,"col":"q","line":0,"kind":"n","text":"0.0147"},
  {"tbl":3,"row":0,"col":"#","line":0,"kind":"h","text":"#"},{"tbl":3,"row":0,"col":"gene","line":0,"kind":"h","text":"Gene Name"},
  {"tbl":3,"row":0,"col":"ls","line":-0.5,"kind":"h","text":"MCW LS"},{"tbl":3,"row":0,"col":"ls","line":0.5,"kind":"h","text":"(FPKM)"},
  {"tbl":3,"row":0,"col":"hs","line":-0.5,"kind":"h","text":"MCW HS"},{"tbl":3,"row":0,"col":"hs","line":0.5,"kind":"h","text":"(FPKM)"},
  {"tbl":3,"row":0,"col":"ratio","line":-0.5,"kind":"h","text":"Log2"},{"tbl":3,"row":0,"col":"ratio","line":0.5,"kind":"h","text":"(ratio)"},
  {"tbl":3,"row":0,"col":"q","line":0,"kind":"h","text":"q_value"},
  {"tbl":3,"row":1,"col":"#","line":0,"kind":"n","text":"1"},{"tbl":3,"row":1,"col":"gene","line":-0.5,"kind":"s","text":"Stub1"},{"tbl":3,"row":1,"col":"gene","line":-0.5,"kind":"d1","text":"(STIP1 homology and"},{"tbl":3,"row":1,"col":"gene","line":0.5,"kind":"d","text":"U-box containing protein 1)"},
  {"tbl":3,"row":1,"col":"ls","line":0,"kind":"n","text":"413.37"},{"tbl":3,"row":1,"col":"hs","line":0,"kind":"n","text":"74.10"},{"tbl":3,"row":1,"col":"ratio","line":0,"kind":"n","text":"-2.48"},{"tbl":3,"row":1,"col":"q","line":0,"kind":"n","text":"0.0469"},
  {"tbl":3,"row":2,"col":"#","line":0,"kind":"n","text":"2"},{"tbl":3,"row":2,"col":"gene","line":0,"kind":"s","text":"Nkx2-1"},{"tbl":3,"row":2,"col":"gene","line":0,"kind":"d1","text":"(NK2 homeobox 1)"},
  {"tbl":3,"row":2,"col":"ls","line":0,"kind":"n","text":"0.39"},{"tbl":3,"row":2,"col":"hs","line":0,"kind":"n","text":"1.80"},{"tbl":3,"row":2,"col":"ratio","line":0,"kind":"n","text":"2.19"},{"tbl":3,"row":2,"col":"q","line":0,"kind":"n","text":"0.0469"},
  {"tbl":3,"row":3,"col":"#","line":0,"kind":"n","text":"3"},{"tbl":3,"row":3,"col":"gene","line":-1,"kind":"s","text":"Brwd3"},{"tbl":3,"row":3,"col":"gene","line":-1,"kind":"d1","text":"(bromodomain and"},{"tbl":3,"row":3,"col":"gene","line":0,"kind":"d","text":"WD repeat domain containing"},{"tbl":3,"row":3,"col":"gene","line":1,"kind":"d","text":"3)"},
  {"tbl":3,"row":3,"col":"ls","line":0,"kind":"n","text":"3.76"},{"tbl":3,"row":3,"col":"hs","line":0,"kind":"n","text":"1.96"},{"tbl":3,"row":3,"col":"ratio","line":0,"kind":"n","text":"-0.94"},{"tbl":3,"row":3,"col":"q","line":0,"kind":"n","text":"0.0469"},
  {"tbl":4,"row":0,"col":"#","line":0,"kind":"h","text":"#"},{"tbl":4,"row":0,"col":"gene","line":0,"kind":"h","text":"Gene Name"},
  {"tbl":4,"row":0,"col":"ls","line":-0.5,"kind":"h","text":"CRL LS"},{"tbl":4,"row":0,"col":"ls","line":0.5,"kind":"h","text":"(FPKM)"},
  {"tbl":4,"row":0,"col":"hs","line":-0.5,"kind":"h","text":"CRL HS"},{"tbl":4,"row":0,"col":"hs","line":0.5,"kind":"h","text":"(FPKM)"},
  {"tbl":4,"row":0,"col":"ratio","line":-0.5,"kind":"h","text":"Log2"},{"tbl":4,"row":0,"col":"ratio","line":0.5,"kind":"h","text":"(ratio)"},
  {"tbl":4,"row":0,"col":"q","line":0,"kind":"h","text":"q_value"},
  {"tbl":4,"row":1,"col":"#","line":0,"kind":"n","text":"1"},{"tbl":4,"row":1,"col":"gene","line":0,"kind":"s","text":"Umod"},{"tbl":4,"row":1,"col":"gene","line":0,"kind":"d1","text":"(uromodulin)"},
  {"tbl":4,"row":1,"col":"ls","line":0,"kind":"n","text":"0.00"},{"tbl":4,"row":1,"col":"hs","line":0,"kind":"n","text":"1.93"},{"tbl":4,"row":1,"col":"ratio","line":0,"kind":"n","text":"10.92"},{"tbl":4,"row":1,"col":"q","line":0,"kind":"n","text":"0.0106"},
  {"tbl":4,"row":2,"col":"#","line":0,"kind":"n","text":"2"},{"tbl":4,"row":2,"col":"gene","line":-0.5,"kind":"s","text":"Stub1"},{"tbl":4,"row":2,"col":"gene","line":-0.5,"kind":"d1","text":"(STIP1 homology and"},{"tbl":4,"row":2,"col":"gene","line":0.5,"kind":"d","text":"U-box containing protein 1)"},
  {"tbl":4,"row":2,"col":"ls","line":0,"kind":"n","text":"57.54"},{"tbl":4,"row":2,"col":"hs","line":0,"kind":"n","text":"280.29"},{"tbl":4,"row":2,"col":"ratio","line":0,"kind":"n","text":"2.28"},{"tbl":4,"row":2,"col":"q","line":0,"kind":"n","text":"0.0106"},
  {"tbl":4,"row":3,"col":"#","line":0,"kind":"n","text":"3"},{"tbl":4,"row":3,"col":"gene","line":-0.5,"kind":"s","text":"S100a9"},{"tbl":4,"row":3,"col":"gene","line":-0.5,"kind":"d1","text":"(S100 calcium"},{"tbl":4,"row":3,"col":"gene","line":0.5,"kind":"d","text":"binding protein A9)"},
  {"tbl":4,"row":3,"col":"ls","line":0,"kind":"n","text":"13.78"},{"tbl":4,"row":3,"col":"hs","line":0,"kind":"n","text":"3.54"},{"tbl":4,"row":3,"col":"ratio","line":0,"kind":"n","text":"-1.96"},{"tbl":4,"row":3,"col":"q","line":0,"kind":"n","text":"0.0106"},
  {"tbl":4,"row":4,"col":"#","line":0,"kind":"n","text":"4"},{"tbl":4,"row":4,"col":"gene","line":0,"kind":"s","text":"Ccl9"},{"tbl":4,"row":4,"col":"gene","line":0,"kind":"d1","text":"(chemokine  ligand 9)"},
  {"tbl":4,"row":4,"col":"ls","line":0,"kind":"n","text":"2.19"},{"tbl":4,"row":4,"col":"hs","line":0,"kind":"n","text":"0.65"},{"tbl":4,"row":4,"col":"ratio","line":0,"kind":"n","text":"-1.74"},{"tbl":4,"row":4,"col":"q","line":0,"kind":"n","text":"0.0106"},
  {"tbl":4,"row":5,"col":"#","line":0,"kind":"n","text":"5"},{"tbl":4,"row":5,"col":"gene","line":-1,"kind":"s","text":"FXYD2"},{"tbl":4,"row":5,"col":"gene","line":-1,"kind":"d1","text":"(FXYD domain-"},{"tbl":4,"row":5,"col":"gene","line":0,"kind":"d","text":"containing ion transport"},{"tbl":4,"row":5,"col":"gene","line":1,"kind":"d","text":"regulator 2)"},
  {"tbl":4,"row":5,"col":"ls","line":0,"kind":"n","text":"0.43"},{"tbl":4,"row":5,"col":"hs","line":0,"kind":"n","text":"1.32"},{"tbl":4,"row":5,"col":"ratio","line":0,"kind":"n","text":"1.63"},{"tbl":4,"row":5,"col":"q","line":0,"kind":"n","text":"0.0106"}
 ]
},
"hconcat":[
 {"spacing":0,"vconcat":[
  {"width":243,"height":94,
   "title":{"text":"A","offset":-22,"dx":3},
   "resolve":{"scale":{"x":"independent"}},
   "layer":[
    {"data":{"name":"sets"},
     "mark":{"type":"point","filled":true,"shape":"M-1,0A1,0.92,0,1,0,1,0A1,0.92,0,1,0,-1,0Z","size":5184,"opacity":1,"stroke":"#ffffff"},
     "encoding":{
      "x":{"field":"set","type":"nominal","scale":{"type":"point","domain":["MCW","CRL"],"range":[107,148.5],"padding":0},"axis":null},
      "y":{"datum":-0.053,"scale":{"domain":[-1,1],"nice":false},"axis":null},
      "color":{"field":"set","type":"nominal","scale":{"domain":["MCW","CRL"],"range":["#8fb0d8","#d77d7d"]},"legend":null},
      "fillOpacity":{"condition":{"test":"datum.set=='CRL'","value":0.5},"value":1},
      "strokeWidth":{"condition":{"test":"datum.set=='CRL'","value":1.5},"value":0}}},
    {"data":{"name":"sets"},
     "mark":{"type":"text","fontSize":8.5,"fontWeight":"bold","color":"#555","baseline":"middle"},
     "encoding":{"x":{"field":"set","type":"nominal","scale":{"type":"point","domain":["MCW","CRL"],"range":[100,153],"padding":0},"axis":null},"y":{"datum":0.77,"scale":{"domain":[-1,1],"nice":false},"axis":null},"text":{"field":"set"}}},
    {"data":{"name":"sets"},
     "mark":{"type":"tick","orient":"horizontal","size":20,"thickness":0.8,"color":"#555","opacity":1},
     "encoding":{"x":{"field":"set","type":"nominal","scale":{"type":"point","domain":["MCW","CRL"],"range":[100,153],"padding":0},"axis":null},"y":{"datum":0.66,"scale":{"domain":[-1,1],"nice":false},"axis":null}}},
    {"data":{"name":"venn"},"transform":[{"filter":"datum.tissue=='KIDNEY'"}],
     "mark":{"type":"text","fontSize":15,"fontWeight":"bold","color":"#000","baseline":"middle"},
     "encoding":{"x":{"field":"region","type":"nominal","scale":{"type":"point","domain":["MCW only","both","CRL only"],"range":[94,157],"padding":0},"axis":null},"y":{"datum":-0.128,"scale":{"domain":[-1,1],"nice":false},"axis":null},"text":{"field":"count"}}},
    {"data":{"name":"panels"},"transform":[{"filter":"datum.tissue=='KIDNEY'"}],
     "mark":{"type":"text","angle":270,"fontSize":9.5,"fontWeight":"bold","color":"#000","baseline":"middle","align":"center"},
     "encoding":{"x":{"field":"tissue","type":"nominal","scale":{"type":"point","range":[52,52],"padding":0},"axis":null},"y":{"datum":-0.064,"scale":{"domain":[-1,1],"nice":false},"axis":null},"text":{"field":"tissue"}}},
    {"data":{"name":"panels"},"transform":[{"filter":"datum.tissue=='KIDNEY'"}],
     "mark":{"type":"text","angle":270,"fontSize":9.5,"fontWeight":"bold","color":"#000","baseline":"middle","align":"center"},
     "encoding":{"x":{"field":"comparison","type":"nominal","scale":{"type":"point","range":[63,63],"padding":0},"axis":null},"y":{"datum":-0.064,"scale":{"domain":[-1,1],"nice":false},"axis":null},"text":{"field":"comparison"}}}
   ]},
  {"bounds":"flush","spacing":0,"hconcat":[
   {"width":77,"height":138,"title":{"text":"B","offset":-18,"dx":5},"data":{"values":[]},"mark":"point"},
   {"bounds":"flush","spacing":0,"vconcat":[
    {"width":100,"height":10,"data":{"values":[]},"mark":"point"},
    {"width":100,"height":96,"view":{"stroke":"#000","strokeWidth":1},
    "resolve":{"axis":{"x":"independent","y":"independent"}},
    "layer":[
     {"data":{"name":"vB"},"mark":{"type":"point","filled":true,"shape":"circle","size":5,"opacity":1},
      "encoding":{
       "x":{"field":"lfc","type":"quantitative","scale":{"domain":[-10,10],"nice":false,"zero":false},"axis":{"values":[-10,-5,0,5,10],"title":"Log2(MCWHS/MCWLS)","titlePadding":3}},
       "y":{"field":"nlq","type":"quantitative","scale":{"domain":[0,3],"nice":false},"axis":{"values":[0,1,2,3],"title":"-log10(q_value)","titlePadding":4,"labels":true,"labelExpr":"format(datum.value, 'd')"}},
       "color":{"condition":{"test":"datum.nlq > 1.301","value":"#ff0000"},"value":"#000000"}}},
     {"data":{"values":[{}]},"mark":{"type":"rule","color":"#7f7f7f","strokeWidth":1.5},"encoding":{"x":{"datum":0,"axis":null}}},
     {"data":{"values":[{}]},"mark":{"type":"rule","color":"#000","strokeWidth":1,"strokeDash":[3,2]},"encoding":{"y":{"datum":1.301,"axis":null}}},
     {"data":{"name":"cnt"},"transform":[{"filter":"datum.panel=='B' && datum.pos=='tl'"}],"mark":{"type":"text","align":"left","baseline":"top","dx":3,"dy":3,"fontSize":8.5,"fontWeight":"bold","color":"#000"},"encoding":{"x":{"datum":-10,"axis":null},"y":{"datum":3,"axis":null},"text":{"field":"n"}}},
     {"data":{"name":"cnt"},"transform":[{"filter":"datum.panel=='B' && datum.pos=='tr'"}],"mark":{"type":"text","align":"right","baseline":"top","dx":-4,"dy":3,"fontSize":8.5,"fontWeight":"bold","color":"#000"},"encoding":{"x":{"datum":10,"axis":null},"y":{"datum":3,"axis":null},"text":{"field":"n"}}},
     {"data":{"name":"cnt"},"transform":[{"filter":"datum.panel=='B' && datum.pos=='bl'"}],"mark":{"type":"text","align":"left","baseline":"bottom","dx":3,"dy":-2,"fontSize":8.5,"fontWeight":"bold","color":"#000"},"encoding":{"x":{"datum":-10,"axis":null},"y":{"datum":0,"axis":null},"text":{"field":"n"}}},
     {"data":{"name":"cnt"},"transform":[{"filter":"datum.panel=='B' && datum.pos=='br'"}],"mark":{"type":"text","align":"right","baseline":"bottom","dx":-4,"dy":-2,"fontSize":8.5,"fontWeight":"bold","color":"#000"},"encoding":{"x":{"datum":10,"axis":null},"y":{"datum":0,"axis":null},"text":{"field":"n"}}}
    ]}
   ]}
  ]},
  {"width":240,"height":107,
   "title":{"text":["Top 5 Differentially Expressed Genes in Renal T Cells","(HS vs LS in MCW)"],"anchor":"middle","fontSize":9.3,"lineHeight":10.5,"offset":1},
   "data":{"name":"cells"},"transform":[{"filter":"datum.tbl==1"}],
   "layer":[
    {"transform":[{"aggregate":[{"op":"count","as":"n"}],"groupby":["row"]}],"mark":{"type":"rule"},
     "encoding":{"y":{"field":"row","type":"ordinal","bandPosition":0,"scale":{"type":"band","range":[0,101],"paddingInner":0,"paddingOuter":0},"axis":null},
      "color":{"condition":{"test":"datum.row<=1","value":"#8c8c8c"},"value":"#c8c8c8"},
      "strokeWidth":{"condition":[{"test":"datum.row==0","value":2},{"test":"datum.row==1","value":1.2}],"value":0.8}}},
    {"transform":[{"filter":"datum.kind=='h'"}],"mark":{"type":"text","fontSize":7.3,"color":"#333","baseline":"middle","align":"center"},
     "encoding":{"x":{"field":"col","type":"nominal","scale":{"type":"point","domain":["#","_a","gene","_b","ls","hs","ratio","q"],"range":[8,223],"padding":0},"axis":null},"y":{"field":"row","type":"ordinal","axis":null},"yOffset":{"field":"line","type":"quantitative","scale":{"domain":[-1,1],"range":[0.42,16.42],"nice":false,"zero":false}},"text":{"field":"text"}}},
    {"transform":[{"filter":"datum.kind=='n' || datum.kind=='d'"}],"mark":{"type":"text","fontSize":7.3,"fontStyle":"italic","color":"#333","baseline":"middle","align":"center"},
     "encoding":{"x":{"field":"col","type":"nominal","axis":null},"y":{"field":"row","type":"ordinal","axis":null},"yOffset":{"field":"line","type":"quantitative"},"text":{"field":"text"}}},
    {"transform":[{"filter":"datum.kind=='s'"}],"mark":{"type":"text","fontSize":7.3,"fontStyle":"italic","fontWeight":"bold","color":"#111","baseline":"middle","align":"right","dx":-24},
     "encoding":{"x":{"field":"col","type":"nominal","axis":null},"y":{"field":"row","type":"ordinal","axis":null},"yOffset":{"field":"line","type":"quantitative"},"text":{"field":"text"}}},
    {"transform":[{"filter":"datum.kind=='d1'"}],"mark":{"type":"text","fontSize":7.3,"fontStyle":"italic","color":"#333","baseline":"middle","align":"left","dx":-22},
     "encoding":{"x":{"field":"col","type":"nominal","axis":null},"y":{"field":"row","type":"ordinal","axis":null},"yOffset":{"field":"line","type":"quantitative"},"text":{"field":"text"}}},
    {"transform":[{"filter":"datum.kind=='sa'"}],"mark":{"type":"text","fontSize":7.3,"fontStyle":"italic","fontWeight":"bold","color":"#111","baseline":"middle","align":"center"},
     "encoding":{"x":{"field":"col","type":"nominal","axis":null},"y":{"field":"row","type":"ordinal","axis":null},"yOffset":{"field":"line","type":"quantitative"},"text":{"field":"text"}}}
   ]},
  {"bounds":"flush","spacing":0,"hconcat":[
   {"width":77,"height":135,"title":{"text":"C","offset":-18,"dx":5},"data":{"values":[]},"mark":"point"},
   {"bounds":"flush","spacing":0,"vconcat":[
    {"width":100,"height":4,"data":{"values":[]},"mark":"point"},
    {"width":100,"height":96,"view":{"stroke":"#000","strokeWidth":1},
    "resolve":{"axis":{"x":"independent","y":"independent"}},
    "layer":[
     {"data":{"name":"vC"},"mark":{"type":"point","filled":true,"shape":"circle","size":6,"opacity":1},
      "encoding":{
       "x":{"field":"lfc","type":"quantitative","scale":{"domain":[-15,15],"nice":false,"zero":false},"axis":{"values":[-15,-10,-5,0,5,10,15],"title":"Log2(CRLHS/CRLLS)","titlePadding":3,"labelFontSize":7.5}},
       "y":{"field":"nlq","type":"quantitative","scale":{"domain":[0,3],"nice":false},"axis":{"values":[0,1,2,3],"title":"-log10(q_value)","titlePadding":4,"labels":true,"labelExpr":"format(datum.value, 'd')"}},
       "color":{"condition":{"test":"datum.nlq > 1.301","value":"#ff0000"},"value":"#000000"}}},
     {"data":{"values":[{}]},"mark":{"type":"rule","color":"#7f7f7f","strokeWidth":1.5},"encoding":{"x":{"datum":0,"axis":null}}},
     {"data":{"values":[{}]},"mark":{"type":"rule","color":"#000","strokeWidth":1,"strokeDash":[3,2]},"encoding":{"y":{"datum":1.301,"axis":null}}},
     {"data":{"name":"cnt"},"transform":[{"filter":"datum.panel=='C' && datum.pos=='tl'"}],"mark":{"type":"text","align":"left","baseline":"top","dx":3,"dy":3,"fontSize":8.5,"fontWeight":"bold","color":"#000"},"encoding":{"x":{"datum":-15,"axis":null},"y":{"datum":3,"axis":null},"text":{"field":"n"}}},
     {"data":{"name":"cnt"},"transform":[{"filter":"datum.panel=='C' && datum.pos=='tr'"}],"mark":{"type":"text","align":"right","baseline":"top","dx":-4,"dy":3,"fontSize":8.5,"fontWeight":"bold","color":"#000"},"encoding":{"x":{"datum":15,"axis":null},"y":{"datum":3,"axis":null},"text":{"field":"n"}}},
     {"data":{"name":"cnt"},"transform":[{"filter":"datum.panel=='C' && datum.pos=='bl'"}],"mark":{"type":"text","align":"left","baseline":"bottom","dx":3,"dy":-2,"fontSize":8.5,"fontWeight":"bold","color":"#000"},"encoding":{"x":{"datum":-15,"axis":null},"y":{"datum":0,"axis":null},"text":{"field":"n"}}},
     {"data":{"name":"cnt"},"transform":[{"filter":"datum.panel=='C' && datum.pos=='br'"}],"mark":{"type":"text","align":"right","baseline":"bottom","dx":-4,"dy":-2,"fontSize":8.5,"fontWeight":"bold","color":"#000"},"encoding":{"x":{"datum":15,"axis":null},"y":{"datum":0,"axis":null},"text":{"field":"n"}}}
    ]}
   ]}
  ]},
  {"width":240,"height":107,
   "title":{"text":["Top 5 Differentially Expressed Genes in Renal T Cells","(HS vs LS in CRL)"],"anchor":"middle","fontSize":9.3,"lineHeight":10.5,"offset":1},
   "data":{"name":"cells"},"transform":[{"filter":"datum.tbl==2"}],
   "layer":[
    {"transform":[{"aggregate":[{"op":"count","as":"n"}],"groupby":["row"]}],"mark":{"type":"rule"},
     "encoding":{"y":{"field":"row","type":"ordinal","bandPosition":0,"scale":{"type":"band","range":[0,103],"paddingInner":0,"paddingOuter":0},"axis":null},
      "color":{"condition":{"test":"datum.row<=1","value":"#8c8c8c"},"value":"#c8c8c8"},
      "strokeWidth":{"condition":[{"test":"datum.row==0","value":2},{"test":"datum.row==1","value":1.2}],"value":0.8}}},
    {"transform":[{"filter":"datum.kind=='h'"}],"mark":{"type":"text","fontSize":7.3,"color":"#333","baseline":"middle","align":"center"},
     "encoding":{"x":{"field":"col","type":"nominal","scale":{"type":"point","domain":["#","_a","gene","_b","ls","hs","ratio","q"],"range":[8,223],"padding":0},"axis":null},"y":{"field":"row","type":"ordinal","axis":null},"yOffset":{"field":"line","type":"quantitative","scale":{"domain":[-1,1],"range":[0.58,16.58],"nice":false,"zero":false}},"text":{"field":"text"}}},
    {"transform":[{"filter":"datum.kind=='n' || datum.kind=='d'"}],"mark":{"type":"text","fontSize":7.3,"fontStyle":"italic","color":"#333","baseline":"middle","align":"center"},
     "encoding":{"x":{"field":"col","type":"nominal","axis":null},"y":{"field":"row","type":"ordinal","axis":null},"yOffset":{"field":"line","type":"quantitative"},"text":{"field":"text"}}},
    {"transform":[{"filter":"datum.kind=='s'"}],"mark":{"type":"text","fontSize":7.3,"fontStyle":"italic","fontWeight":"bold","color":"#111","baseline":"middle","align":"right","dx":-24},
     "encoding":{"x":{"field":"col","type":"nominal","axis":null},"y":{"field":"row","type":"ordinal","axis":null},"yOffset":{"field":"line","type":"quantitative"},"text":{"field":"text"}}},
    {"transform":[{"filter":"datum.kind=='d1'"}],"mark":{"type":"text","fontSize":7.3,"fontStyle":"italic","color":"#333","baseline":"middle","align":"left","dx":-22},
     "encoding":{"x":{"field":"col","type":"nominal","axis":null},"y":{"field":"row","type":"ordinal","axis":null},"yOffset":{"field":"line","type":"quantitative"},"text":{"field":"text"}}},
    {"transform":[{"filter":"datum.kind=='sa'"}],"mark":{"type":"text","fontSize":7.3,"fontStyle":"italic","fontWeight":"bold","color":"#111","baseline":"middle","align":"center"},
     "encoding":{"x":{"field":"col","type":"nominal","axis":null},"y":{"field":"row","type":"ordinal","axis":null},"yOffset":{"field":"line","type":"quantitative"},"text":{"field":"text"}}}
   ]}
 ]},
 {"width":1,"height":625,"view":{"stroke":"#a6a6a6","strokeWidth":1},"data":{"values":[]},"mark":"point"},
 {"spacing":0,"vconcat":[
  {"width":244,"height":94,
   "title":{"text":"D","offset":-22,"dx":6},
   "resolve":{"scale":{"x":"independent"}},
   "layer":[
    {"data":{"name":"sets"},
     "mark":{"type":"point","filled":true,"shape":"M-1,0A1,0.92,0,1,0,1,0A1,0.92,0,1,0,-1,0Z","size":5184,"opacity":1,"stroke":"#ffffff"},
     "encoding":{
      "x":{"field":"set","type":"nominal","scale":{"type":"point","domain":["MCW","CRL"],"range":[106,147.5],"padding":0},"axis":null},
      "y":{"datum":-0.06,"scale":{"domain":[-1,1],"nice":false},"axis":null},
      "color":{"field":"set","type":"nominal","scale":{"domain":["MCW","CRL"],"range":["#8fb0d8","#d77d7d"]},"legend":null},
      "fillOpacity":{"condition":{"test":"datum.set=='CRL'","value":0.5},"value":1},
      "strokeWidth":{"condition":{"test":"datum.set=='CRL'","value":1.5},"value":0}}},
    {"data":{"name":"sets"},
     "mark":{"type":"text","fontSize":8.5,"fontWeight":"bold","color":"#555","baseline":"middle"},
     "encoding":{"x":{"field":"set","type":"nominal","scale":{"type":"point","domain":["MCW","CRL"],"range":[98,152],"padding":0},"axis":null},"y":{"datum":0.77,"scale":{"domain":[-1,1],"nice":false},"axis":null},"text":{"field":"set"}}},
    {"data":{"name":"sets"},
     "mark":{"type":"tick","orient":"horizontal","size":20,"thickness":0.8,"color":"#555","opacity":1},
     "encoding":{"x":{"field":"set","type":"nominal","scale":{"type":"point","domain":["MCW","CRL"],"range":[98,152],"padding":0},"axis":null},"y":{"datum":0.66,"scale":{"domain":[-1,1],"nice":false},"axis":null}}},
    {"data":{"name":"venn"},"transform":[{"filter":"datum.tissue=='BLOOD'"}],
     "mark":{"type":"text","fontSize":15,"fontWeight":"bold","color":"#000","baseline":"middle"},
     "encoding":{"x":{"field":"region","type":"nominal","scale":{"type":"point","domain":["MCW only","both","CRL only"],"range":[92,157],"padding":0},"axis":null},"y":{"datum":-0.128,"scale":{"domain":[-1,1],"nice":false},"axis":null},"text":{"field":"count"}}},
    {"data":{"name":"panels"},"transform":[{"filter":"datum.tissue=='BLOOD'"}],
     "mark":{"type":"text","angle":270,"fontSize":9.5,"fontWeight":"bold","color":"#000","baseline":"middle","align":"center"},
     "encoding":{"x":{"field":"tissue","type":"nominal","scale":{"type":"point","range":[50,50],"padding":0},"axis":null},"y":{"datum":-0.07,"scale":{"domain":[-1,1],"nice":false},"axis":null},"text":{"field":"tissue"}}},
    {"data":{"name":"panels"},"transform":[{"filter":"datum.tissue=='BLOOD'"}],
     "mark":{"type":"text","angle":270,"fontSize":9.5,"fontWeight":"bold","color":"#000","baseline":"middle","align":"center"},
     "encoding":{"x":{"field":"comparison","type":"nominal","scale":{"type":"point","range":[62,62],"padding":0},"axis":null},"y":{"datum":-0.07,"scale":{"domain":[-1,1],"nice":false},"axis":null},"text":{"field":"comparison"}}}
   ]},
  {"bounds":"flush","spacing":0,"hconcat":[
   {"width":77,"height":138,"title":{"text":"E","offset":-18,"dx":7},"data":{"values":[]},"mark":"point"},
   {"bounds":"flush","spacing":0,"vconcat":[
    {"width":98,"height":10,"data":{"values":[]},"mark":"point"},
    {"width":98,"height":96,"view":{"stroke":"#000","strokeWidth":1},
    "resolve":{"axis":{"x":"independent","y":"independent"}},
    "layer":[
     {"data":{"name":"vE"},"mark":{"type":"point","filled":true,"shape":"circle","size":5,"opacity":1},
      "encoding":{
       "x":{"field":"lfc","type":"quantitative","scale":{"domain":[-10,10],"nice":false,"zero":false},"axis":{"values":[-10,-5,0,5,10],"title":"Log2(MCWHS/MCWLS)","titlePadding":3}},
       "y":{"field":"nlq","type":"quantitative","scale":{"domain":[0,3],"nice":false},"axis":{"values":[0,1,2,3],"title":"-log10(q_value)","titlePadding":4,"labels":true,"labelExpr":"format(datum.value, 'd')"}},
       "color":{"condition":{"test":"datum.nlq > 1.301","value":"#ff0000"},"value":"#000000"}}},
     {"data":{"values":[{}]},"mark":{"type":"rule","color":"#7f7f7f","strokeWidth":1.5},"encoding":{"x":{"datum":0,"axis":null}}},
     {"data":{"values":[{}]},"mark":{"type":"rule","color":"#000","strokeWidth":1,"strokeDash":[3,2]},"encoding":{"y":{"datum":1.301,"axis":null}}},
     {"data":{"name":"cnt"},"transform":[{"filter":"datum.panel=='E' && datum.pos=='tl'"}],"mark":{"type":"text","align":"left","baseline":"top","dx":3,"dy":3,"fontSize":8.5,"fontWeight":"bold","color":"#000"},"encoding":{"x":{"datum":-10,"axis":null},"y":{"datum":3,"axis":null},"text":{"field":"n"}}},
     {"data":{"name":"cnt"},"transform":[{"filter":"datum.panel=='E' && datum.pos=='tr'"}],"mark":{"type":"text","align":"right","baseline":"top","dx":-4,"dy":3,"fontSize":8.5,"fontWeight":"bold","color":"#000"},"encoding":{"x":{"datum":10,"axis":null},"y":{"datum":3,"axis":null},"text":{"field":"n"}}},
     {"data":{"name":"cnt"},"transform":[{"filter":"datum.panel=='E' && datum.pos=='bl'"}],"mark":{"type":"text","align":"left","baseline":"bottom","dx":3,"dy":-2,"fontSize":8.5,"fontWeight":"bold","color":"#000"},"encoding":{"x":{"datum":-10,"axis":null},"y":{"datum":0,"axis":null},"text":{"field":"n"}}},
     {"data":{"name":"cnt"},"transform":[{"filter":"datum.panel=='E' && datum.pos=='br'"}],"mark":{"type":"text","align":"right","baseline":"bottom","dx":-4,"dy":-2,"fontSize":8.5,"fontWeight":"bold","color":"#000"},"encoding":{"x":{"datum":10,"axis":null},"y":{"datum":0,"axis":null},"text":{"field":"n"}}}
    ]}
   ]}
  ]},
  {"width":240,"height":107,
   "title":{"text":["All 3 Differentially Expressed Genes in Blood T Cells","(HS vs LS in MCW)"],"anchor":"middle","fontSize":9.3,"lineHeight":10.5,"offset":1},
   "data":{"name":"cells"},"transform":[{"filter":"datum.tbl==3"}],
   "layer":[
    {"transform":[{"aggregate":[{"op":"count","as":"n"}],"groupby":["row"]}],"mark":{"type":"rule"},
     "encoding":{"y":{"field":"row","type":"ordinal","bandPosition":0,"scale":{"type":"band","range":[0,70],"paddingInner":0,"paddingOuter":0},"axis":null},
      "color":{"condition":{"test":"datum.row<=1","value":"#8c8c8c"},"value":"#c8c8c8"},
      "strokeWidth":{"condition":[{"test":"datum.row==0","value":2},{"test":"datum.row==1","value":1.2}],"value":0.8}}},
    {"transform":[{"filter":"datum.kind=='h'"}],"mark":{"type":"text","fontSize":7.3,"color":"#333","baseline":"middle","align":"center"},
     "encoding":{"x":{"field":"col","type":"nominal","scale":{"type":"point","domain":["#","_a","gene","_b","ls","hs","ratio","q"],"range":[7,223],"padding":0},"axis":null},"y":{"field":"row","type":"ordinal","axis":null},"yOffset":{"field":"line","type":"quantitative","scale":{"domain":[-1,1],"range":[0.75,16.75],"nice":false,"zero":false}},"text":{"field":"text"}}},
    {"transform":[{"filter":"datum.kind=='n' || datum.kind=='d'"}],"mark":{"type":"text","fontSize":7.3,"fontStyle":"italic","color":"#333","baseline":"middle","align":"center"},
     "encoding":{"x":{"field":"col","type":"nominal","axis":null},"y":{"field":"row","type":"ordinal","axis":null},"yOffset":{"field":"line","type":"quantitative"},"text":{"field":"text"}}},
    {"transform":[{"filter":"datum.kind=='s'"}],"mark":{"type":"text","fontSize":7.3,"fontStyle":"italic","fontWeight":"bold","color":"#111","baseline":"middle","align":"right","dx":-24},
     "encoding":{"x":{"field":"col","type":"nominal","axis":null},"y":{"field":"row","type":"ordinal","axis":null},"yOffset":{"field":"line","type":"quantitative"},"text":{"field":"text"}}},
    {"transform":[{"filter":"datum.kind=='d1'"}],"mark":{"type":"text","fontSize":7.3,"fontStyle":"italic","color":"#333","baseline":"middle","align":"left","dx":-22},
     "encoding":{"x":{"field":"col","type":"nominal","axis":null},"y":{"field":"row","type":"ordinal","axis":null},"yOffset":{"field":"line","type":"quantitative"},"text":{"field":"text"}}},
    {"transform":[{"filter":"datum.kind=='sa'"}],"mark":{"type":"text","fontSize":7.3,"fontStyle":"italic","fontWeight":"bold","color":"#111","baseline":"middle","align":"center"},
     "encoding":{"x":{"field":"col","type":"nominal","axis":null},"y":{"field":"row","type":"ordinal","axis":null},"yOffset":{"field":"line","type":"quantitative"},"text":{"field":"text"}}}
   ]},
  {"bounds":"flush","spacing":0,"hconcat":[
   {"width":77,"height":135,"title":{"text":"F","offset":-18,"dx":8},"data":{"values":[]},"mark":"point"},
   {"bounds":"flush","spacing":0,"vconcat":[
    {"width":98,"height":4,"data":{"values":[]},"mark":"point"},
    {"width":98,"height":96,"view":{"stroke":"#000","strokeWidth":1},
    "resolve":{"axis":{"x":"independent","y":"independent"}},
    "layer":[
     {"data":{"name":"vF"},"mark":{"type":"point","filled":true,"shape":"circle","size":6,"opacity":1},
      "encoding":{
       "x":{"field":"lfc","type":"quantitative","scale":{"domain":[-15,15],"nice":false,"zero":false},"axis":{"values":[-15,-10,-5,0,5,10,15],"title":"Log2(CRLHS/CRLLS)","titlePadding":3,"labelFontSize":7.5}},
       "y":{"field":"nlq","type":"quantitative","scale":{"domain":[0,3],"nice":false},"axis":{"values":[0,1,2,3],"title":"-log10(q_value)","titlePadding":4,"labels":true,"labelExpr":"format(datum.value, 'd')"}},
       "color":{"condition":{"test":"datum.nlq > 1.301","value":"#ff0000"},"value":"#000000"}}},
     {"data":{"values":[{}]},"mark":{"type":"rule","color":"#7f7f7f","strokeWidth":1.5},"encoding":{"x":{"datum":0,"axis":null}}},
     {"data":{"values":[{}]},"mark":{"type":"rule","color":"#000","strokeWidth":1,"strokeDash":[3,2]},"encoding":{"y":{"datum":1.301,"axis":null}}},
     {"data":{"name":"cnt"},"transform":[{"filter":"datum.panel=='F' && datum.pos=='tl'"}],"mark":{"type":"text","align":"left","baseline":"top","dx":3,"dy":3,"fontSize":8.5,"fontWeight":"bold","color":"#000"},"encoding":{"x":{"datum":-15,"axis":null},"y":{"datum":3,"axis":null},"text":{"field":"n"}}},
     {"data":{"name":"cnt"},"transform":[{"filter":"datum.panel=='F' && datum.pos=='tr'"}],"mark":{"type":"text","align":"right","baseline":"top","dx":-4,"dy":3,"fontSize":8.5,"fontWeight":"bold","color":"#000"},"encoding":{"x":{"datum":15,"axis":null},"y":{"datum":3,"axis":null},"text":{"field":"n"}}},
     {"data":{"name":"cnt"},"transform":[{"filter":"datum.panel=='F' && datum.pos=='bl'"}],"mark":{"type":"text","align":"left","baseline":"bottom","dx":3,"dy":-2,"fontSize":8.5,"fontWeight":"bold","color":"#000"},"encoding":{"x":{"datum":-15,"axis":null},"y":{"datum":0,"axis":null},"text":{"field":"n"}}},
     {"data":{"name":"cnt"},"transform":[{"filter":"datum.panel=='F' && datum.pos=='br'"}],"mark":{"type":"text","align":"right","baseline":"bottom","dx":-4,"dy":-2,"fontSize":8.5,"fontWeight":"bold","color":"#000"},"encoding":{"x":{"datum":15,"axis":null},"y":{"datum":0,"axis":null},"text":{"field":"n"}}}
    ]}
   ]}
  ]},
  {"width":240,"height":107,
   "title":{"text":["Top 5 Differentially Expressed Genes in Blood T Cells","(HS vs LS in CRL)"],"anchor":"middle","fontSize":9.3,"lineHeight":10.5,"offset":1},
   "data":{"name":"cells"},"transform":[{"filter":"datum.tbl==4"}],
   "layer":[
    {"transform":[{"aggregate":[{"op":"count","as":"n"}],"groupby":["row"]}],"mark":{"type":"rule"},
     "encoding":{"y":{"field":"row","type":"ordinal","bandPosition":0,"scale":{"type":"band","range":[0,103],"paddingInner":0,"paddingOuter":0},"axis":null},
      "color":{"condition":{"test":"datum.row<=1","value":"#8c8c8c"},"value":"#c8c8c8"},
      "strokeWidth":{"condition":[{"test":"datum.row==0","value":2},{"test":"datum.row==1","value":1.2}],"value":0.8}}},
    {"transform":[{"filter":"datum.kind=='h'"}],"mark":{"type":"text","fontSize":7.3,"color":"#333","baseline":"middle","align":"center"},
     "encoding":{"x":{"field":"col","type":"nominal","scale":{"type":"point","domain":["#","_a","gene","_b","ls","hs","ratio","q"],"range":[7,223],"padding":0},"axis":null},"y":{"field":"row","type":"ordinal","axis":null},"yOffset":{"field":"line","type":"quantitative","scale":{"domain":[-1,1],"range":[0.58,16.58],"nice":false,"zero":false}},"text":{"field":"text"}}},
    {"transform":[{"filter":"datum.kind=='n' || datum.kind=='d'"}],"mark":{"type":"text","fontSize":7.3,"fontStyle":"italic","color":"#333","baseline":"middle","align":"center"},
     "encoding":{"x":{"field":"col","type":"nominal","axis":null},"y":{"field":"row","type":"ordinal","axis":null},"yOffset":{"field":"line","type":"quantitative"},"text":{"field":"text"}}},
    {"transform":[{"filter":"datum.kind=='s'"}],"mark":{"type":"text","fontSize":7.3,"fontStyle":"italic","fontWeight":"bold","color":"#111","baseline":"middle","align":"right","dx":-24},
     "encoding":{"x":{"field":"col","type":"nominal","axis":null},"y":{"field":"row","type":"ordinal","axis":null},"yOffset":{"field":"line","type":"quantitative"},"text":{"field":"text"}}},
    {"transform":[{"filter":"datum.kind=='d1'"}],"mark":{"type":"text","fontSize":7.3,"fontStyle":"italic","color":"#333","baseline":"middle","align":"left","dx":-22},
     "encoding":{"x":{"field":"col","type":"nominal","axis":null},"y":{"field":"row","type":"ordinal","axis":null},"yOffset":{"field":"line","type":"quantitative"},"text":{"field":"text"}}},
    {"transform":[{"filter":"datum.kind=='sa'"}],"mark":{"type":"text","fontSize":7.3,"fontStyle":"italic","fontWeight":"bold","color":"#111","baseline":"middle","align":"center"},
     "encoding":{"x":{"field":"col","type":"nominal","axis":null},"y":{"field":"row","type":"ordinal","axis":null},"yOffset":{"field":"line","type":"quantitative"},"text":{"field":"text"}}}
   ]}
 ]}
]
}
